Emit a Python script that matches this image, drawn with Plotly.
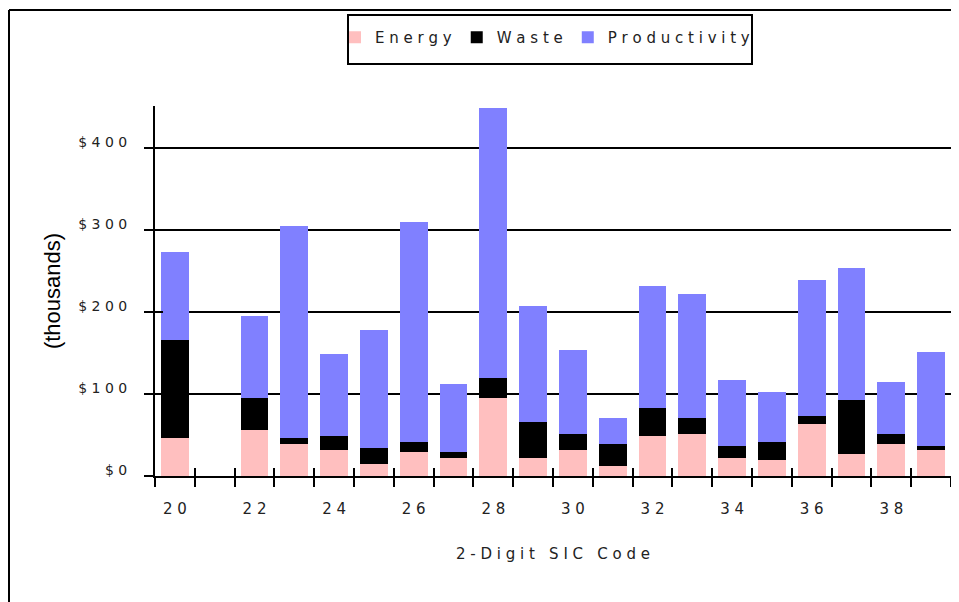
import plotly.graph_objects as go

# ---- data ----
sic_codes = [20, 22, 23, 24, 25, 26, 27, 28, 29, 30, 31, 32, 33, 34, 35, 36, 37, 38, 39]
energy = [46, 56, 39, 32, 15, 29, 22, 95, 22, 32, 12, 49, 51, 22, 19.5, 63, 27, 39, 32]
waste = [120, 39, 7, 17, 19, 12, 7, 24.5, 44, 19, 27, 34, 19.5, 14.5, 22, 10, 66, 12, 5]
productivity = [107, 100, 259, 100, 144, 269, 83, 329.5, 141, 103, 32, 149, 151.5, 80.5, 61, 166, 161, 63.6, 114]

x_label_vals = [20, 22, 24, 26, 28, 30, 32, 34, 36, 38]
x_label_text = ["2 0", "2 2", "2 4", "2 6", "2 8", "3 0", "3 2", "3 4", "3 6", "3 8"]
y_tick_vals = [0, 100, 200, 300, 400]
y_tick_text = ["$ 0", "$ 1 0 0", "$ 2 0 0", "$ 3 0 0", "$ 4 0 0"]
series_names = ["E n e r g y", "W a s t e", "P r o d u c t i v i t y"]
x_title = "2 - D i g i t   S I C   C o d e"
y_title = "(thousands)"

# ---- layout geometry ----
# the page body has an 8px margin, so the figure is 951x594 placed at (8, 8)
OFF = 8
W, H = 959 - OFF, 602 - OFF
L, R, T, B = 147, 8, 98, 126
pw, ph = W - L - R, H - T - B

def px_x(x):  # page pixel -> paper
    return (x - OFF - L) / pw

def px_y(y):  # page pixel -> paper
    return (H - B - (y - OFF)) / ph

colors = ["#FFBFBF", "#000000", "#8080FF"]
TXT = "#222222"
FONT = "DejaVu Sans"

fig = go.Figure()
for name, vals, col in zip(series_names, [energy, waste, productivity], colors):
    fig.add_trace(go.Bar(x=sic_codes, y=vals, name=name,
                         marker=dict(color=col, line=dict(width=0)),
                         width=0.7))

boundaries = [c + 0.5 for c in range(19, 40)]
xr = [19.5, 39.5]
yr = [0, 451]

# empty helper trace so the overlaying tick axes (inner half of the crossing ticks) are drawn
fig.add_trace(go.Scatter(x=[], y=[], xaxis="x2", yaxis="y2", showlegend=False,
                         hoverinfo="skip", mode="markers"))

fig.update_layout(
    width=W, height=H,
    margin=dict(l=L, r=R, t=T, b=B, autoexpand=False),
    paper_bgcolor="white", plot_bgcolor="white",
    barmode="stack",
    font=dict(family=FONT, size=15, color=TXT),
    showlegend=True,
    legend=dict(orientation="h", traceorder="normal",
                x=px_x(335), xanchor="left", y=px_y(21), yanchor="top",
                font=dict(family=FONT, size=15, color=TXT),
                bgcolor="rgba(0,0,0,0)", borderwidth=0),
    xaxis=dict(range=xr, tickmode="array", tickvals=x_label_vals, ticktext=x_label_text,
               ticks="", showgrid=False, zeroline=False,
               showline=True, linecolor="black", linewidth=2,
               ticklabelstandoff=18,
               tickfont=dict(family=FONT, size=15, color=TXT),
               minor=dict(tickmode="array", tickvals=boundaries, ticks="outside",
                          ticklen=9, tickwidth=2, tickcolor="black", showgrid=False),
               title=dict(text=x_title, font=dict(family=FONT, size=15, color=TXT), standoff=31),
               automargin=False),
    xaxis2=dict(range=xr, overlaying="x", anchor="y2", side="bottom",
                tickmode="array", tickvals=boundaries, ticks="inside",
                ticklen=8, tickwidth=2, tickcolor="black",
                showticklabels=False, showgrid=False, zeroline=False, showline=False),
    yaxis=dict(range=yr, tickmode="array", tickvals=y_tick_vals, ticktext=y_tick_text,
               ticks="outside", ticklen=9, tickwidth=2, tickcolor="black",
               showgrid=True, gridcolor="black", gridwidth=2, zeroline=False,
               showline=True, linecolor="black", linewidth=2,
               ticklabelstandoff=14, ticklabelshift=-6,
               tickfont=dict(family=FONT, size=14, color=TXT),
               title=dict(text=y_title, font=dict(family="Liberation Sans", size=22, color="black"),
                          standoff=12),
               automargin=False),
    yaxis2=dict(range=yr, overlaying="y", anchor="x2", side="left",
                tickmode="array", tickvals=y_tick_vals, ticks="inside",
                ticklen=8, tickwidth=2, tickcolor="black",
                showticklabels=False, showgrid=False, zeroline=False, showline=False),
    shapes=[
        # outer frame (top and left)
        dict(type="line", xref="paper", yref="paper", x0=px_x(9), x1=px_x(959), y0=px_y(10), y1=px_y(10),
             line=dict(color="black", width=2)),
        dict(type="line", xref="paper", yref="paper", x0=px_x(9), x1=px_x(9), y0=px_y(10), y1=px_y(602),
             line=dict(color="black", width=2)),
        # legend box
        dict(type="rect", xref="paper", yref="paper", x0=px_x(348), x1=px_x(752), y0=px_y(64), y1=px_y(15),
             line=dict(color="black", width=2), fillcolor="rgba(0,0,0,0)"),
    ],
)

fig.write_html("out.html")
